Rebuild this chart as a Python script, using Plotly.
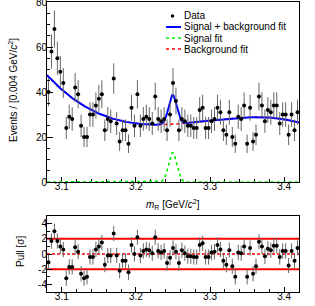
import numpy as np
import plotly.graph_objects as go

# ---------------- data ----------------
x_lo, x_hi, bin_w = 3.08, 3.42, 0.004
counts = [40, 58, 68, 55, 49, 44, 24, 29, 28, 42, 39, 25, 20, 20, 30, 30, 34, 37, 39, 23,
          28, 27, 46, 26, 18, 23, 23, 17, 33,
          25, 39, 25, 28, 29, 28, 26, 38, 28, 27, 28, 23, 30, 44, 36, 23, 28, 27, 25, 25,
          24, 24, 32, 33, 24, 24, 27, 28, 33,
          31, 23, 21, 31, 20, 17, 29, 28, 34, 17, 33, 18, 21, 38, 34, 27, 32, 31, 34, 34,
          26, 30, 30, 21, 30, 23, 31]
pulls = [-1.1, 1.7, 3.0, 1.7, 1.0, 0.6, -3.2, -1.7, -1.7, 0.9, 0.3, -2.6, -3.2, -3.0, -0.4,
         -0.4, 0.6, 1.0, 1.5, -1.4, -0.2, -0.2, 2.7, -0.2, -2.2, -0.9, -0.9, -2.4, 1.2,
         0.0, 2.2, -0.2, 0.4, 0.6, 0.5, 0.1, 2.2, 0.4, 0.2, 0.4, -1.2, -0.5, 0.8, 0.3, -1.2,
         0.5, 0.1, -0.3, -0.3, -0.4, -0.4, 1.2, 1.4, -0.4, -0.4, 0.2, 0.3, 1.2,
         0.6, -0.9, -1.4, 0.5, -1.6, -3.0, 0.2, 0.1, 1.0, -3.0, 0.8, -2.6, -1.6, 1.6, 1.0,
         -0.3, 0.7, 0.5, 1.1, 1.1, -0.4, 0.4, 0.4, -1.5, 0.4, -0.9, 0.8]

# fit model parameters (cubic background + gaussian signal)
bkg_coef = [25.68, 3.42, 11.27, -13.97]   # in t = (m - 3.25)/0.17
sig_amp, sig_mean, sig_sigma = 13.0, 3.2495, 0.0055

x_ticks_major = [3.1, 3.2, 3.3, 3.4]

# ---------------- derived ----------------
centers = x_lo + bin_w * (np.arange(len(counts)) + 0.5)
errs = np.sqrt(np.array(counts, dtype=float))
mgrid = np.linspace(x_lo, x_hi, 600)
t = (mgrid - 3.25) / 0.17
bkg = sum(c * t**i for i, c in enumerate(bkg_coef))
sig = sig_amp * np.exp(-0.5 * ((mgrid - sig_mean) / sig_sigma) ** 2)
tot = bkg + sig

FONT = "Liberation Sans, Arial, sans-serif"
fig = go.Figure()

fig.add_trace(go.Scatter(x=mgrid, y=sig, mode="lines", xaxis="x", yaxis="y", cliponaxis=False,
                         line=dict(color="#00ee00", width=1.6, dash="dot"), name="Signal fit"))
fig.add_trace(go.Scatter(x=mgrid, y=bkg, mode="lines", xaxis="x", yaxis="y",
                         line=dict(color="#ff0000", width=1.6, dash="dot"), name="Background fit"))
fig.add_trace(go.Scatter(x=mgrid, y=tot, mode="lines", xaxis="x", yaxis="y",
                         line=dict(color="#0000ff", width=2), name="Signal + background fit"))
fig.add_trace(go.Scatter(x=centers, y=counts, mode="markers", xaxis="x", yaxis="y",
                         marker=dict(color="black", size=4),
                         error_y=dict(type="data", array=errs, color="#666666", thickness=1, width=0),
                         name="Data"))

# pull panel lines
for yv, dash, w in [(2, "solid", 2), (-2, "solid", 2), (0, "3px,2px", 1.5)]:
    fig.add_trace(go.Scatter(x=[x_lo, x_hi], y=[yv, yv], mode="lines", xaxis="x2", yaxis="y2",
                             line=dict(color="#ff0000", width=w, dash=dash), showlegend=False))
fig.add_trace(go.Scatter(x=centers, y=pulls, mode="markers", xaxis="x2", yaxis="y2",
                         marker=dict(color="black", size=4),
                         error_y=dict(type="data", array=[1.0] * len(pulls), color="#666666",
                                      thickness=1, width=0), showlegend=False))

L, R, T, B = 47, 16, 2, 14
W, H = 315, 306
ph = H - T - B
pw = W - L - R
def py(ypx):
    return (H - B - ypx) / ph
def px(xpx):
    return (xpx - L) / pw

axis_common = dict(showline=True, linecolor="black", linewidth=1, mirror=True, showgrid=False,
                   zeroline=False, ticks="inside", tickcolor="black", automargin=False,
                   ticklabeloverflow="allow",
                   tickfont=dict(family=FONT, size=10, color="black"))

fig.update_layout(
    width=W, height=H, margin=dict(l=L, r=R, t=T, b=B, autoexpand=False),
    paper_bgcolor="white", plot_bgcolor="white", showlegend=False,
    font=dict(family=FONT, size=10, color="black"),
    xaxis=dict(axis_common, domain=[0, 1], range=[x_lo, x_hi], anchor="y",
               tickvals=x_ticks_major, ticklen=5, layer="below traces", ticklabelstandoff=-5,
               minor=dict(dtick=0.02, tick0=3.08, ticklen=3, ticks="inside", tickcolor="black")),
    yaxis=dict(axis_common, domain=[py(182), 1], range=[0, 80], anchor="x",
               tickvals=[0, 20, 40, 60, 80], ticklen=6, ticklabelstandoff=-3,
               minor=dict(dtick=5, ticklen=3, ticks="inside", tickcolor="black")),
    xaxis2=dict(axis_common, domain=[0, 1], range=[x_lo, x_hi], anchor="y2",
                tickvals=x_ticks_major, ticklen=5, ticklabelstandoff=-5,
                minor=dict(dtick=0.02, tick0=3.08, ticklen=3, ticks="inside", tickcolor="black")),
    yaxis2=dict(axis_common, domain=[0, py(216)], range=[-5, 5], anchor="x2",
                tickvals=[-4, -2, 0, 2, 4], ticktext=["-4", "-2", "0", "2", "4"], ticklen=5,
                ticklabelstandoff=-3,
                minor=dict(dtick=1, ticklen=3, ticks="inside", tickcolor="black")),
)

ann = [
    dict(text="<i>m</i><sub>R</sub> [GeV/<i>c</i><sup>2</sup>]", x=px(173), y=py(204),
         xanchor="center", yanchor="middle", font=dict(size=10)),
    dict(text="Events / [0.004 GeV/<i>c</i><sup>2</sup>]", x=px(13), y=py(90), textangle=-90,
         xanchor="center", yanchor="middle", font=dict(size=10)),
    dict(text="Pull [σ]", x=px(21), y=py(252), textangle=-90,
         xanchor="center", yanchor="middle", font=dict(size=10)),
]
leg_rows = [(16, "Data"), (27, "Signal + background fit"), (38, "Signal fit"), (49, "Background fit")]
for ypx_, txt in leg_rows:
    ann.append(dict(text=txt, x=px(182), y=py(ypx_), xanchor="left", yanchor="middle",
                    font=dict(size=10)))
for a in ann:
    a.update(xref="paper", yref="paper", showarrow=False)
fig.update_layout(annotations=ann)

shapes = [
    dict(type="circle", xref="paper", yref="paper", x0=px(170.8), x1=px(174.2),
         y0=py(17.7), y1=py(14.3), fillcolor="black", line=dict(width=0)),
    dict(type="line", xref="paper", yref="paper", x0=px(166), x1=px(181), y0=py(27), y1=py(27),
         line=dict(color="#0000ff", width=2)),
    dict(type="line", xref="paper", yref="paper", x0=px(166), x1=px(181), y0=py(38), y1=py(38),
         line=dict(color="#00ee00", width=1.6, dash="dot")),
    dict(type="line", xref="paper", yref="paper", x0=px(166), x1=px(181), y0=py(49), y1=py(49),
         line=dict(color="#ff0000", width=1.6, dash="dot")),
]
fig.update_layout(shapes=shapes)

fig.write_html("out.html", config={"displayModeBar": False},
               post_script="document.body.style.margin='0';document.body.style.overflow='hidden';")
